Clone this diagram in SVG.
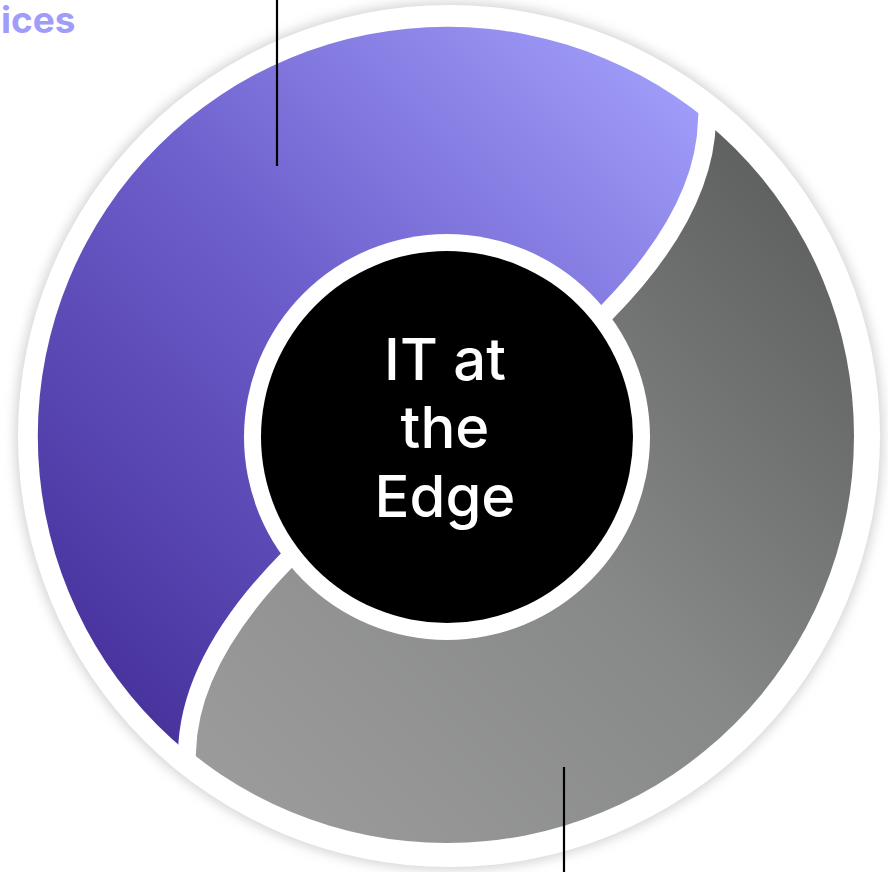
<svg xmlns="http://www.w3.org/2000/svg" width="888" height="872" viewBox="0 0 888 872">
  <defs>
    <filter id="soft" x="-10%" y="-10%" width="120%" height="120%">
      <feGaussianBlur stdDeviation="6"/>
    </filter>
    <linearGradient id="gPurple" gradientUnits="userSpaceOnUse" x1="120" y1="740" x2="740" y2="110">
      <stop offset="0" stop-color="#46309a"/>
      <stop offset="0.5" stop-color="#6c5ecb"/>
      <stop offset="1" stop-color="#a3a0fc"/>
    </linearGradient>
    <linearGradient id="gGray" gradientUnits="userSpaceOnUse" x1="180" y1="780" x2="800" y2="170">
      <stop offset="0" stop-color="#9c9c9c"/>
      <stop offset="0.5" stop-color="#878988"/>
      <stop offset="1" stop-color="#5d5f5e"/>
    </linearGradient>
    <style>
      .divider { fill: none; stroke: #ffffff; stroke-width: 18; stroke-linejoin: round; }
      .leader { stroke: #000000; stroke-width: 2.2; fill: none; }
      .center-text { font-family: Inter, "Liberation Sans", Arial, sans-serif; font-size: 58px; font-weight: 500; fill: #ffffff; text-anchor: middle; }
      .label { font-family: Inter, "Liberation Sans", Arial, sans-serif; font-size: 37px; font-weight: bold; fill: #a09cfa; }
    </style>
  </defs>
  <rect width="888" height="872" fill="#ffffff"/>

  <g id="ring">
    <circle cx="449" cy="436" r="434" fill="#d4d4d4" filter="url(#soft)"/>
    <circle cx="449" cy="436" r="431" fill="#ffffff"/>
  </g>

  <g id="segment-gray">
    <circle cx="447" cy="436" r="407" fill="url(#gGray)"/>
  </g>

  <g id="segment-purple">
    <path d="M707,120 A407,407 0 0,0 187,752 Q189,660 287,560 L607,312 Q705,212 707,120 Z" fill="url(#gPurple)"/>
  </g>

  <g id="dividers">
    <path class="divider" d="M708,106 L707,120 Q705,212 607,312 L590,330"/>
    <path class="divider" d="M186,766 L187,752 Q189,660 287,560 L304,542"/>
  </g>

  <g id="center">
    <circle cx="447" cy="437" r="203" fill="#ffffff"/>
    <circle cx="447" cy="437" r="186" fill="#000000"/>
    <text class="center-text" x="445" y="380">IT at</text>
    <text class="center-text" x="445" y="448">the</text>
    <text class="center-text" x="445" y="517">Edge</text>
  </g>

  <g id="connectors">
    <line class="leader" x1="277" y1="0" x2="277" y2="166"/>
    <line class="leader" x1="564" y1="767" x2="564" y2="872"/>
  </g>

  <g id="label-top">
    <text class="label" x="1" y="33">ices</text>
  </g>
</svg>
